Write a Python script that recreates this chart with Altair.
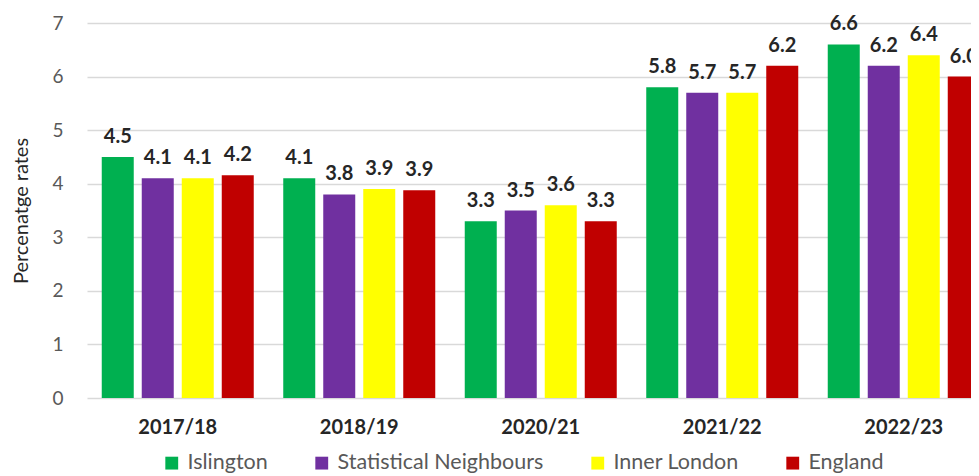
import altair as alt
import pandas as pd

years = ["2017/18", "2018/19", "2020/21", "2021/22", "2022/23"]
series = ["Islington", "Statistical Neighbours", "Inner London", "England"]
colors = ["#00B050", "#7030A0", "#FFFF00", "#C00000"]
values = {
    "Islington": [4.5, 4.1, 3.3, 5.8, 6.6],
    "Statistical Neighbours": [4.1, 3.8, 3.5, 5.7, 6.2],
    "Inner London": [4.1, 3.9, 3.6, 5.7, 6.4],
    "England": [4.16, 3.88, 3.3, 6.2, 6.0],
}
y_ticks = [0, 1, 2, 3, 4, 5, 6, 7]

rows = []
for s in series:
    for yr, v in zip(years, values[s]):
        rows.append({"year": yr, "series": s, "value": v})
df = pd.DataFrame(rows)

FONT = "Lato"

x_scale = alt.Scale(range=[0, 907.5], paddingInner=0.1625, paddingOuter=0.08125)
xo_scale = alt.Scale(domain=series, paddingInner=0.2, paddingOuter=0)
y_scale = alt.Scale(domain=[0, 7], nice=False)

x_axis = alt.Axis(labelAngle=0, labelFontWeight="bold", labelFontSize=20,
                  labelColor="#262626", labelPadding=19, domain=False, ticks=False,
                  labelFont=FONT)
y_axis = alt.Axis(values=y_ticks, format=".0f", labelFontSize=19, labelColor="#595959",
                  labelPadding=24, domain=False, ticks=False, grid=True,
                  gridColor="#D9D9D9", gridWidth=1.3, titleFontSize=20,
                  titleFontWeight="normal", titleColor="#262626", titlePadding=20,
                  labelFont=FONT, titleFont=FONT)

bars = alt.Chart(df).mark_bar().encode(
    x=alt.X("year:N", sort=years, title=None, scale=x_scale, axis=x_axis),
    xOffset=alt.XOffset("series:N", scale=xo_scale),
    y=alt.Y("value:Q", title="Percenatge rates", scale=y_scale, axis=y_axis),
    color=alt.Color("series:N", scale=alt.Scale(domain=series, range=colors),
                    legend=alt.Legend(title=None, orient="none", direction="horizontal",
                                      legendX=74, legendY=429, symbolType="square",
                                      symbolSize=165, symbolStrokeWidth=0,
                                      labelFontSize=21.5, labelColor="#595959", labelFont=FONT,
                                      labelLimit=400, labelOffset=5, columnPadding=43)),
)

labels = alt.Chart(df).mark_text(baseline="alphabetic", dy=-14, fontWeight="bold",
                                 fontSize=20, color="#262626", font=FONT).encode(
    x=alt.X("year:N", sort=years, title=None, scale=x_scale, axis=x_axis),
    xOffset=alt.XOffset("series:N", scale=xo_scale),
    y=alt.Y("value:Q", title="Percenatge rates", scale=y_scale, axis=y_axis),
    text=alt.Text("value:Q", format=".1f"),
)

chart = alt.layer(bars, labels).properties(
    width=884, height=375,
    autosize=alt.AutoSizeParams(type="none"),
    padding={"left": 79, "top": 15, "right": 0, "bottom": 78},
).configure(background="white").configure_view(stroke=None)

chart.save("out.html", embed_options={"renderer": "svg", "actions": False})
